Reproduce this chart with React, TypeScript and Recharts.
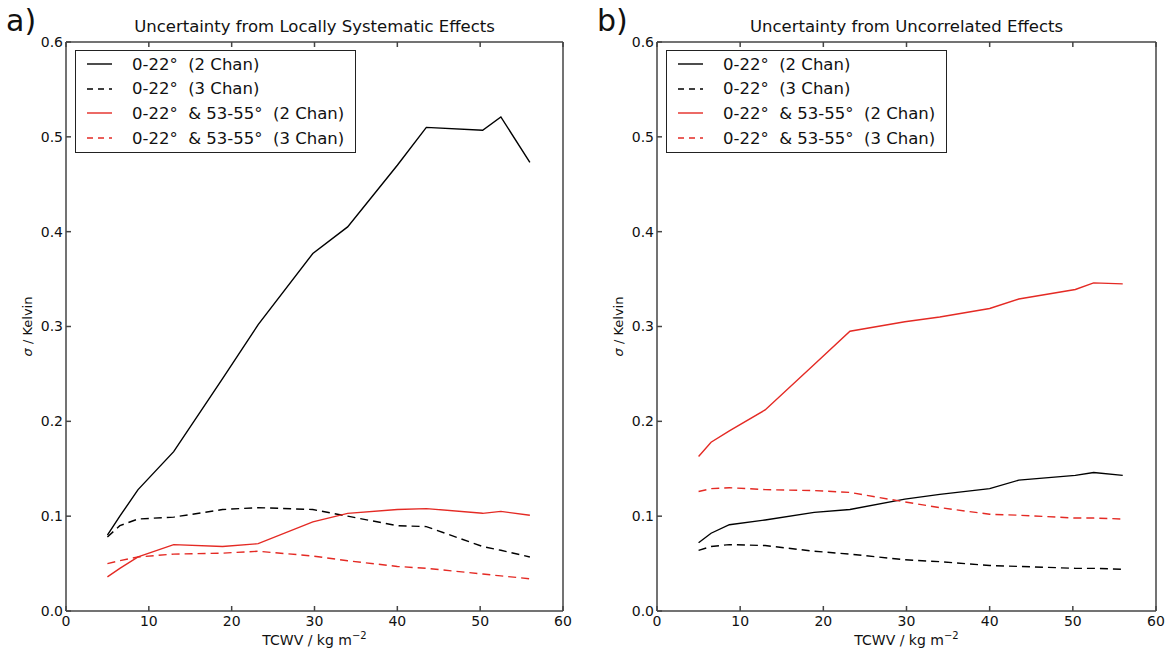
import { LineChart, Line, XAxis, YAxis, Legend } from 'recharts';

// TCWV sample points (kg m-2)
const tcwv = [5, 6.5, 8.7, 13, 18.9, 23.2, 29.8, 34, 40, 43.5, 50.3, 52.5, 56];

// a) locally systematic effects
const sysTwo = [0.08, 0.1, 0.128, 0.168, 0.245, 0.302, 0.377, 0.405, 0.47, 0.51, 0.507, 0.521, 0.473];
const sysThree = [0.078, 0.09, 0.097, 0.099, 0.107, 0.109, 0.107, 0.1, 0.09, 0.089, 0.068, 0.064, 0.057];
const sysTwoDual = [0.036, 0.045, 0.057, 0.07, 0.068, 0.071, 0.094, 0.103, 0.107, 0.108, 0.103, 0.105, 0.101];
const sysThreeDual = [0.05, 0.053, 0.057, 0.06, 0.061, 0.063, 0.058, 0.053, 0.047, 0.045, 0.039, 0.037, 0.034];

// b) uncorrelated effects
const uncTwo = [0.072, 0.082, 0.091, 0.096, 0.104, 0.107, 0.118, 0.123, 0.129, 0.138, 0.143, 0.146, 0.143];
const uncThree = [0.064, 0.068, 0.07, 0.069, 0.063, 0.06, 0.054, 0.052, 0.048, 0.047, 0.045, 0.045, 0.044];
const uncTwoDual = [0.163, 0.178, 0.19, 0.212, 0.26, 0.295, 0.305, 0.31, 0.319, 0.329, 0.339, 0.346, 0.345];
const uncThreeDual = [0.126, 0.129, 0.13, 0.128, 0.127, 0.125, 0.115, 0.109, 0.102, 0.101, 0.098, 0.098, 0.097];

const xTicks = [0, 10, 20, 30, 40, 50, 60];
const yTicks = [0, 0.1, 0.2, 0.3, 0.4, 0.5, 0.6];
const seriesNames = ['0-22°  (2 Chan)', '0-22°  (3 Chan)', '0-22°  & 53-55°  (2 Chan)', '0-22°  & 53-55°  (3 Chan)'];

const RED = '#e42a24';
const FONT = '"DejaVu Sans", sans-serif';
const styles = [
  { color: '#000', dash: undefined },
  { color: '#000', dash: '8 5' },
  { color: RED, dash: undefined },
  { color: RED, dash: '8 5' },
];

function rows(a: number[], b: number[], c: number[], d: number[]) {
  return tcwv.map((x, i) => ({ x, s0: a[i], s1: b[i], s2: c[i], s3: d[i] }));
}

const LegendBox = () => (
  <div style={{ border: '1.3px solid #222', background: '#fff', width: 281, height: 103, boxSizing: 'border-box', paddingTop: 1 }}>
    {seriesNames.map((n, i) => (
      <div key={i} style={{ display: 'flex', alignItems: 'center', height: 24.6 }}>
        <svg width={56} height={10}>
          <line x1={11} x2={36} y1={5} y2={5} stroke={styles[i].color} strokeWidth={1.4} strokeDasharray={styles[i].dash ? '6 5' : undefined} />
        </svg>
        <span style={{ fontFamily: FONT, fontSize: 16.5, color: '#111', whiteSpace: 'pre' }}>{n}</span>
      </div>
    ))}
  </div>
);

function Panel({ data, title, tag, left, width, marginRight }: { data: any[]; title: string; tag: string; left: number; width: number; marginRight: number }) {
  const plotLeft = 66;
  const plotRight = width - marginRight - 2;
  return (
    <div style={{ position: 'absolute', left, top: 0, width, height: 654 }}>
      <LineChart width={width} height={654} data={data} margin={{ top: 41, right: marginRight, left: 0, bottom: 0 }}>
        <XAxis xAxisId="b" dataKey="x" type="number" domain={[0, 60]} ticks={xTicks} height={43}
          stroke="#444" strokeWidth={1.5} tickSize={-5} tickMargin={10}
          tick={{ fontSize: 14, fill: '#111', fontFamily: FONT }}
          label={{ content: (p: any) => {
            const vb = p.viewBox;
            return <text x={vb.x + vb.width / 2} y={vb.y + 34} textAnchor="middle" fontSize={14} fontFamily={FONT} fill="#111">TCWV / kg m<tspan dy={-6} fontSize={10}>−2</tspan></text>;
          } }} />
        <XAxis xAxisId="t" orientation="top" dataKey="x" type="number" domain={[0, 60]} ticks={xTicks} height={1}
          stroke="#444" strokeWidth={1.5} tickSize={-5} tickFormatter={() => ''} />
        <YAxis yAxisId="l" type="number" domain={[0, 0.6]} ticks={yTicks} width={66}
          stroke="#444" strokeWidth={1.5} tickSize={-5} tickMargin={8}
          tickFormatter={(v: number) => v.toFixed(1)}
          tick={{ fontSize: 14, fill: '#111', fontFamily: FONT }}
          label={{ content: (p: any) => {
            const vb = p.viewBox;
            const cy = vb.y + vb.height / 2;
            return <text x={32} y={cy} transform={`rotate(-90 32 ${cy})`} textAnchor="middle" fontSize={13} fontFamily={FONT} fill="#111"><tspan fontStyle="italic">σ</tspan> / Kelvin</text>;
          } }} />
        <YAxis yAxisId="r" orientation="right" type="number" domain={[0, 0.6]} ticks={yTicks} width={2}
          stroke="#444" strokeWidth={1.5} tickSize={-5} tickFormatter={() => ''} />
        <Legend layout="vertical" align="center" verticalAlign="middle" content={() => <LegendBox />}
          wrapperStyle={{ left: 75 + plotLeft - 66, top: 50, width: 281, height: 103 }} />
        {styles.map((s, i) => (
          <Line key={i} xAxisId="b" yAxisId="l" dataKey={`s${i}`} type="linear" stroke={s.color} strokeWidth={1.4}
            strokeDasharray={s.dash} dot={false} activeDot={false} isAnimationActive={false} />
        ))}
      </LineChart>
      <div style={{ position: 'absolute', left: plotLeft, width: plotRight - plotLeft, top: 17, textAlign: 'center', fontFamily: FONT, fontSize: 16.5, color: '#111' }}>{title}</div>
      <div style={{ position: 'absolute', left: 6, top: 3, fontFamily: FONT, fontSize: 30, color: '#111' }}>{tag}</div>
    </div>
  );
}

export default function App() {
  return (
    <div style={{ position: 'absolute', left: 0, top: 0, width: 1165, height: 654, background: '#fff', overflow: 'hidden' }}>
      <Panel data={rows(sysTwo, sysThree, sysTwoDual, sysThreeDual)} title="Uncertainty from Locally Systematic Effects" tag="a)" left={0} width={580} marginRight={15} />
      <Panel data={rows(uncTwo, uncThree, uncTwoDual, uncThreeDual)} title="Uncertainty from Uncorrelated Effects" tag="b)" left={591} width={574} marginRight={7} />
    </div>
  );
}
